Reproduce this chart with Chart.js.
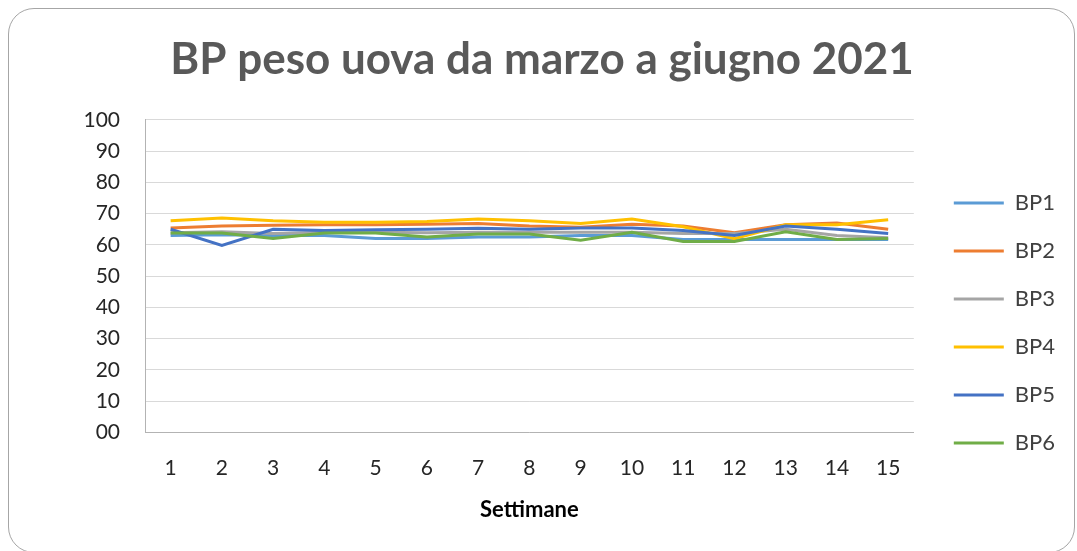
<!DOCTYPE html>
<html>
<head>
<meta charset="utf-8">
<script src="https://cdn.jsdelivr.net/npm/chart.js@4/dist/chart.umd.min.js"></script>
<style>
  html, body { margin: 0; padding: 0; background: #fff; }
  body { width: 1077px; height: 551px; overflow: hidden; position: relative; }
  .frame {
    position: absolute; left: 8px; top: 8px; width: 1067px; height: 545px;
    border: 1px solid #a6a6a6; border-radius: 26px; box-sizing: border-box;
  }
  #grafico { position: absolute; left: 0; top: 0; }
</style>
</head>
<body>
<div class="frame"></div>
<canvas id="grafico" width="1077" height="551"></canvas>
<script>
// settimane
const settimane = ["1", "2", "3", "4", "5", "6", "7", "8", "9", "10", "11", "12", "13", "14", "15"];
const nomiSerie = ["BP1", "BP2", "BP3", "BP4", "BP5", "BP6"];
const coloriSerie = ["#5B9BD5", "#ED7D31", "#A5A5A5", "#FFC000", "#4472C4", "#70AD47"];

// pesi
const bp1 = [63, 63.2, 63, 63, 62, 62, 62.5, 62.5, 63, 63, 61.7, 61.7, 61.7, 61.7, 61.7];
const bp2 = [65.4, 66, 66.3, 66.4, 66.4, 66.6, 66.8, 66, 65.6, 66.6, 66, 63.9, 66.4, 67, 65];
const bp3 = [63.9, 64.2, 63.6, 64, 64, 63.9, 64, 64, 64, 64, 63.6, 63.6, 65, 63, 62.3];
const bp4 = [67.7, 68.6, 67.7, 67.2, 67.2, 67.5, 68.3, 67.7, 66.8, 68.3, 65.8, 62, 66.4, 66.4, 68];
const bp5 = [65, 59.8, 65, 64.6, 64.8, 65, 65.3, 65, 65.4, 65.4, 64.6, 63, 66, 65, 63.6];
const bp6 = [63.8, 63.8, 62, 63.8, 63.8, 62.5, 63.5, 63.5, 61.5, 64, 61.1, 61.1, 64.2, 61.7, 62];
const valori = [bp1, bp2, bp3, bp4, bp5, bp6];

const tickY = ["00", "10", "20", "30", "40", "50", "60", "70", "80", "90", "100"];

const datasets = nomiSerie.map((nome, i) => ({
    label: nome,
    data: valori[i],
    borderColor: coloriSerie[i],
    backgroundColor: coloriSerie[i],
    borderWidth: 3,
    pointRadius: 0,
    tension: 0,
    order: nomiSerie.length - i // l'ultima serie disegnata sopra, come in Excel
}));

const ctx = document.getElementById("grafico").getContext("2d");
new Chart(ctx, {
    type: "line",
    data: { labels: settimane, datasets: datasets },
    options: {
        responsive: false,
        animation: false,
        maintainAspectRatio: false,
        layout: { padding: { left: 19, right: 12, top: 30, bottom: 26 } },
        plugins: {
            tooltip: { enabled: false },
            title: {
                display: true,
                text: "BP peso uova da marzo a giugno 2021",
                color: "#595959",
                font: { family: "Lato", size: 44, weight: "bold" },
                padding: { top: 3, bottom: 34 }
            },
            legend: {
                position: "right",
                align: "start",
                title: { display: true, text: "", font: { size: 10 }, padding: { top: 124, bottom: 0 } },
                labels: {
                    usePointStyle: true,
                    pointStyle: "line",
                    pointStyleWidth: 50,
                    color: "#404040",
                    font: { family: "Lato", size: 22 },
                    padding: 26,
                    sort: (a, b) => a.datasetIndex - b.datasetIndex
                }
            }
        },
        scales: {
            x: {
                offset: true,
                grid: { display: false, drawTicks: false },
                border: { display: true, color: "#b3b3b3", width: 1 },
                ticks: { color: "#262626", font: { family: "Lato", size: 21, lineHeight: 0.82 }, padding: 27, maxRotation: 0 },
                title: {
                    display: true,
                    text: "Settimane",
                    color: "#000",
                    font: { family: "Lato", size: 22, weight: "bold", lineHeight: 0.97 },
                    padding: { top: -4, bottom: 4 }
                }
            },
            y: {
                min: 0,
                max: 100,
                grid: { color: "#d9d9d9", drawTicks: false },
                border: { display: true, color: "#b3b3b3", width: 1 },
                afterFit: (s) => { s.width = 126; },
                ticks: {
                    stepSize: 10,
                    color: "#262626",
                    font: { family: "Lato", size: 21 },
                    padding: 25,
                    callback: (v) => tickY[Math.round(v / 10)]
                }
            },
            // spazio vuoto tra area del grafico e legenda
            spazio: {
                position: "right",
                display: true,
                grid: { display: false, drawTicks: false },
                border: { display: false },
                ticks: { display: false },
                afterFit: (s) => { s.width = 14; }
            }
        }
    }
});
</script>
</body>
</html>
